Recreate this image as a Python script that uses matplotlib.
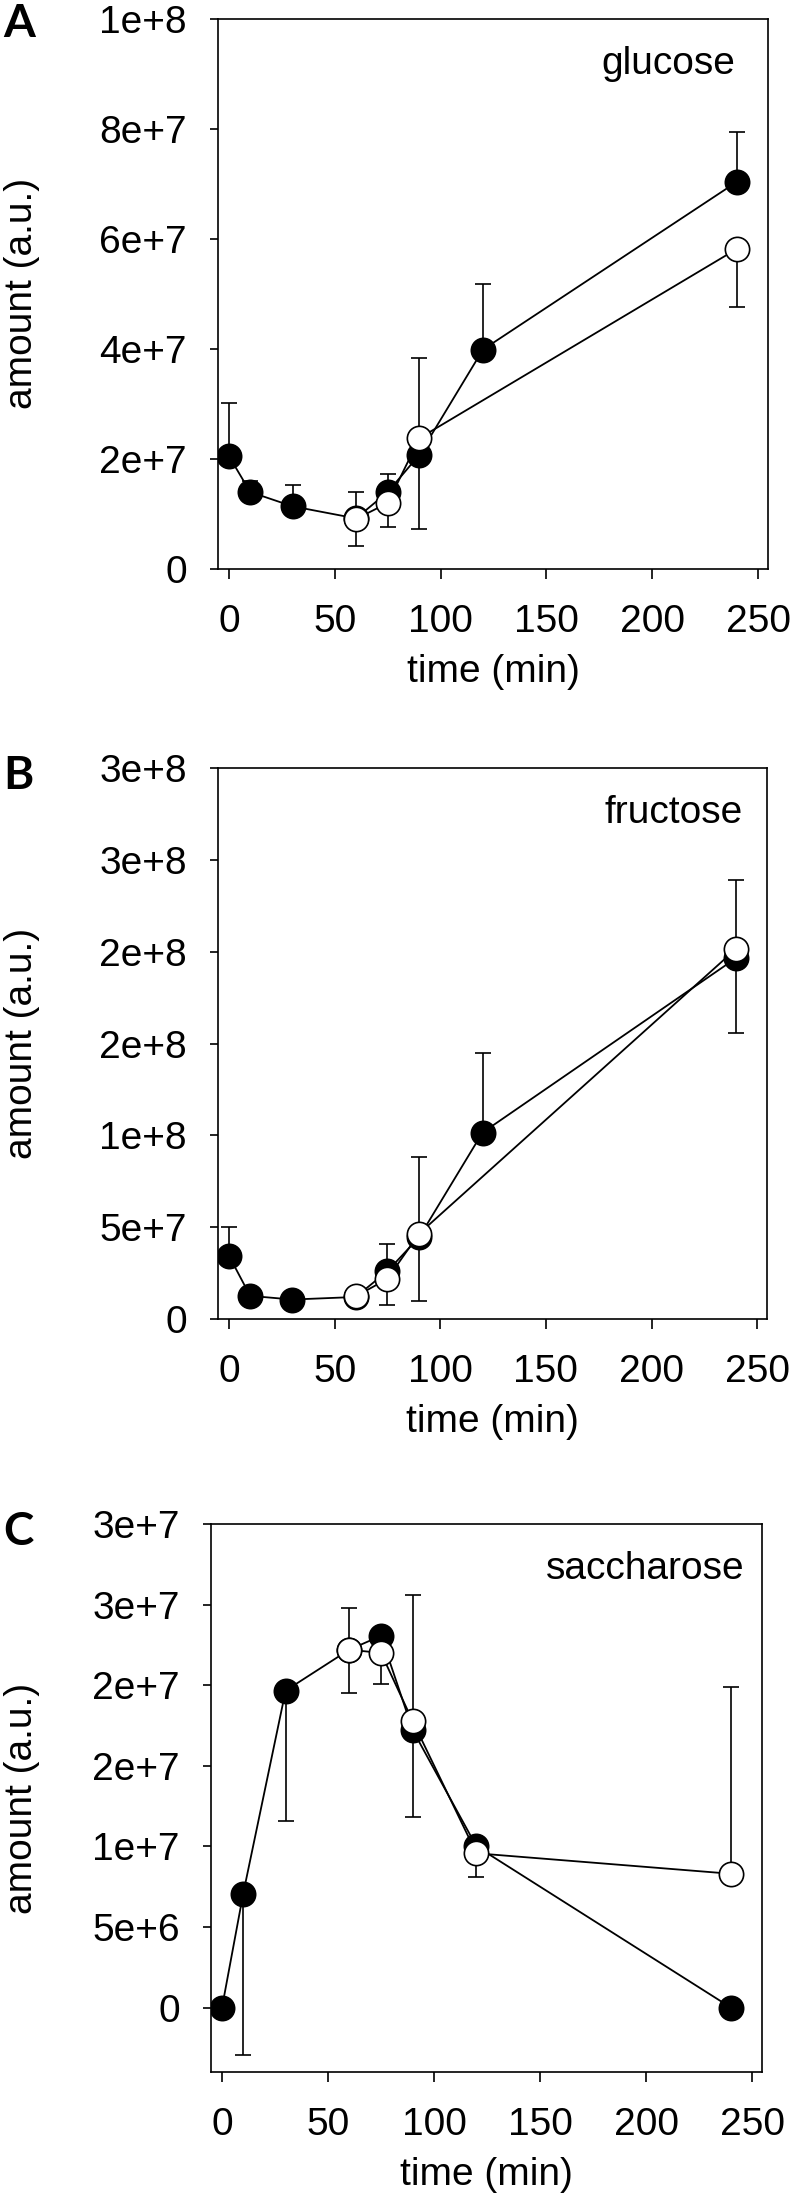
import numpy as np
import matplotlib
matplotlib.use('Agg')
import matplotlib.pyplot as plt

# sampling times (min)
t_filled = [0, 10, 30, 60, 75, 90, 120, 240]

# glucose
glc_t_open = [60, 75, 90, 240]
glc_filled = [2.05e7, 1.40e7, 1.14e7, 0.92e7, 1.40e7, 2.08e7, 3.99e7, 7.04e7]
glc_filled_lo = [0, 0, 0, 0, 0, 0, 0, 0]
glc_filled_up = [0.96e7, 0.20e7, 0.38e7, 0, 0.33e7, 0, 1.20e7, 0.90e7]
glc_open = [0.91e7, 1.20e7, 2.38e7, 5.82e7]
glc_open_lo = [0.50e7, 0.43e7, 1.65e7, 1.06e7]
glc_open_up = [0.49e7, 0, 1.45e7, 0]
glc_yticks = [0, 2e7, 4e7, 6e7, 8e7, 1e8]
glc_ylabels = ['0', '2e+7', '4e+7', '6e+7', '8e+7', '1e+8']

# fructose
fru_t_open = [60, 75, 90, 240]
fru_filled = [3.44e7, 1.26e7, 1.06e7, 1.20e7, 2.61e7, 4.45e7, 1.015e8, 1.965e8]
fru_filled_lo = [0, 0, 0, 0, 0, 0, 0, 0]
fru_filled_up = [1.59e7, 0, 0, 0, 1.46e7, 0, 0.435e8, 0]
fru_open = [1.23e7, 2.19e7, 4.65e7, 2.015e8]
fru_open_lo = [0, 1.44e7, 3.65e7, 0.46e8]
fru_open_up = [0, 0, 4.19e7, 0.375e8]
fru_yticks = [0, 5e7, 1e8, 1.5e8, 2e8, 2.5e8, 3e8]
fru_ylabels = ['0', '5e+7', '1e+8', '2e+8', '2e+8', '3e+8', '3e+8']

# saccharose
sac_t_open = [60, 75, 90, 120, 240]
sac_filled = [0, 7.07e6, 1.966e7, 2.22e7, 2.306e7, 1.72e7, 1.0e7, 0]
sac_filled_lo = [0, 1.003e7, 0.806e7, 0, 0, 0, 0, 0]
sac_filled_up = [0, 0, 0, 0, 0, 0, 0, 0]
sac_open = [2.22e7, 2.20e7, 1.775e7, 0.957e7, 0.83e7]
sac_open_lo = [0.27e7, 0.195e7, 0.596e7, 0.148e7, 0]
sac_open_up = [0.256e7, 0, 0.786e7, 0, 1.16e7]
sac_yticks = [0, 5e6, 1e7, 1.5e7, 2e7, 2.5e7, 3e7]
sac_ylabels = ['0', '5e+6', '1e+7', '2e+7', '2e+7', '3e+7', '3e+7']

plt.rcParams['font.family'] = ['Liberation Sans', 'DejaVu Sans']

fig = plt.figure(figsize=(7.92, 22), dpi=100)

# axes positions in figure fraction [left, bottom, width, height]
ax_a = fig.add_axes([0.2753, 0.74136, 0.6944, 0.25])
ax_b = fig.add_axes([0.2753, 0.40045, 0.6932, 0.25045])
ax_c = fig.add_axes([0.2664, 0.05818, 0.6957, 0.2491])


def draw_panel(ax, t_open, yf, yf_lo, yf_up, yo, yo_lo, yo_up, yticks, ylabels, ylim, name, name_x):
    ebkw = dict(fmt='none', ecolor='black', elinewidth=1.2, capsize=5.8, capthick=1.2)
    ax.errorbar(t_filled, yf, yerr=[yf_lo, yf_up], zorder=1, **ebkw)
    ax.errorbar(t_open, yo, yerr=[yo_lo, yo_up], zorder=1, **ebkw)
    ax.plot(t_filled, yf, '-o', color='black', lw=1.3, ms=17.5, mfc='black', mec='black', mew=1.2, zorder=3)
    ax.plot(t_open, yo, '-o', color='black', lw=1.3, ms=17.5, mfc='white', mec='black', mew=1.2, zorder=4)

    ax.set_xlim(-5.2, 254.7)
    ax.set_ylim(*ylim)
    ax.set_xticks([0, 50, 100, 150, 200, 250])
    ax.set_yticks(yticks)
    ax.set_yticklabels(ylabels)
    ax.tick_params(axis='x', direction='out', length=7, width=1.2, labelsize=28, pad=18)
    ax.tick_params(axis='y', direction='out', length=6, width=1.2, labelsize=28, pad=16.5)
    for s in ax.spines.values():
        s.set_linewidth(1.2)
    ax.set_xlabel('time (min)', fontsize=28, labelpad=10)
    ax.text(name_x, 0.9, name, transform=ax.transAxes, ha='right', va='baseline', fontsize=28)


draw_panel(ax_a, glc_t_open, glc_filled, glc_filled_lo, glc_filled_up,
           glc_open, glc_open_lo, glc_open_up, glc_yticks, glc_ylabels, (0, 1e8), 'glucose', 0.94)
draw_panel(ax_b, fru_t_open, fru_filled, fru_filled_lo, fru_filled_up,
           fru_open, fru_open_lo, fru_open_up, fru_yticks, fru_ylabels, (0, 3e8), 'fructose', 0.956)
draw_panel(ax_c, sac_t_open, sac_filled, sac_filled_lo, sac_filled_up,
           sac_open, sac_open_lo, sac_open_up, sac_yticks, sac_ylabels, (-4.0e6, 3e7), 'saccharose', 0.969)

# y labels placed by hand, far left as in the original
for yc in [0.8664, 0.5257, 0.1827]:
    fig.text(0.0278, yc, 'amount (a.u.)', rotation=90, ha='center', va='center', fontsize=28)

# panel letters
for letter, yt in [('A', 1 - 3 / 2200), ('B', 1 - 755 / 2200), ('C', 1 - 1511 / 2200)]:
    fig.text(0.004, yt, letter, ha='left', va='top', fontsize=33, fontweight='bold', family='Lato')

fig.savefig('out.png', dpi=100)
